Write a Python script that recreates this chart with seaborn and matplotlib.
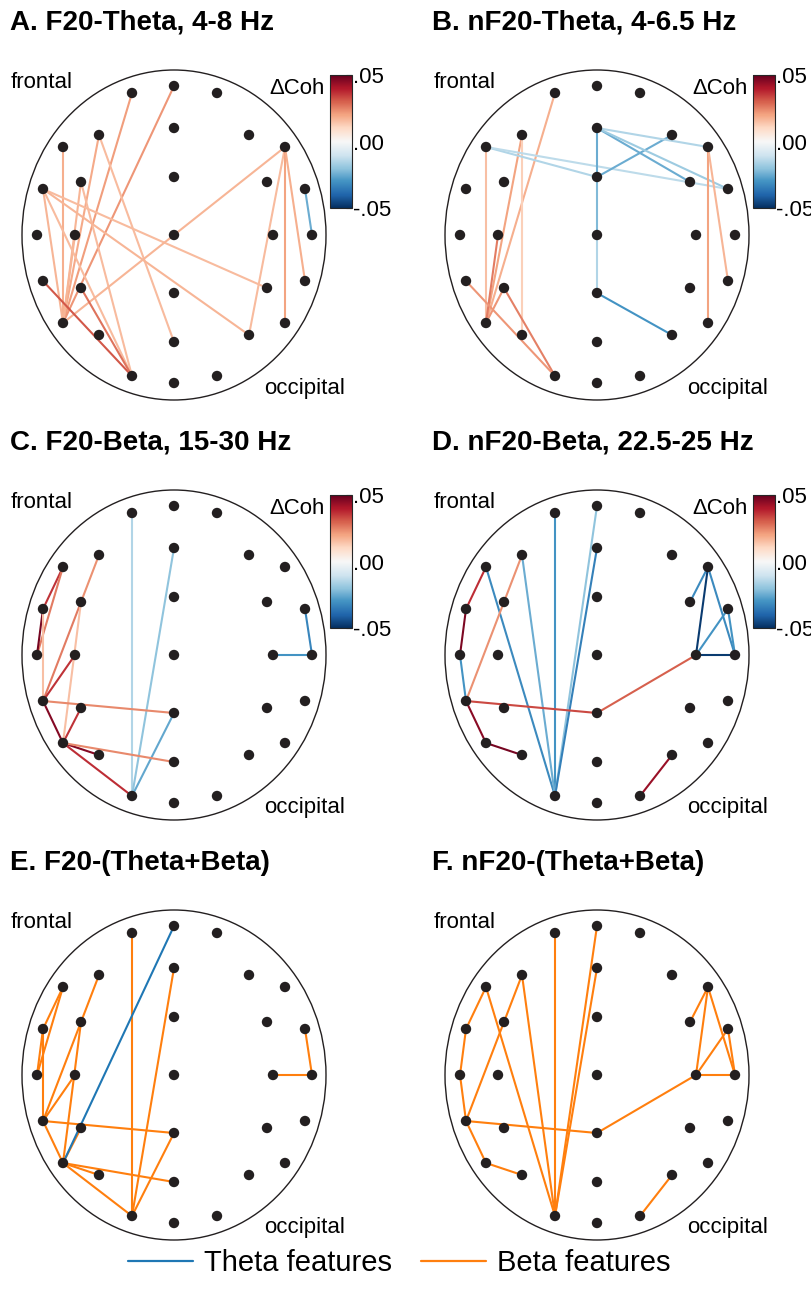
import numpy as np
import matplotlib
matplotlib.use("Agg")
import matplotlib.pyplot as plt
import seaborn as sns
from matplotlib.patches import Ellipse
from matplotlib.lines import Line2D
from matplotlib import font_manager
from matplotlib.cm import ScalarMappable
from matplotlib.colors import Normalize

# electrode layout (offsets from head centre, y up)
elec_names = ["a_l", "a_c", "a_r",
              "b_ll", "b_l", "b_c", "b_r", "b_rr",
              "c_ll", "c_l", "c_c", "c_r", "c_rr",
              "d_ll", "d_l", "d_c", "d_r", "d_rr",
              "e_ll", "e_l", "e_c", "e_r", "e_rr",
              "f_ll", "f_l", "f_c", "f_r", "f_rr",
              "g_l", "g_c", "g_r"]
elec_x = [-42, 0, 43,
          -111, -75, 0, 75, 111,
          -131, -93, 0, 93, 131,
          -137, -99, 0, 99, 138,
          -131, -93, 0, 93, 131,
          -111, -75, 0, 75, 111,
          -42, 0, 43]
elec_y = [142, 149, 142,
          88, 100, 107, 100, 88,
          46, 53, 58, 53, 46,
          0, 0, 0, 0, 0,
          -46, -53, -58, -53, -46,
          -88, -100, -107, -100, -88,
          -141, -148, -141]

# significant coherence differences (node, node, delta coherence)
edges_A = [("a_l", "f_ll", 0.021), ("a_c", "f_ll", 0.022), ("b_ll", "f_ll", 0.018),
           ("b_l", "f_ll", 0.019), ("b_l", "f_c", 0.016), ("c_l", "f_ll", 0.017),
           ("c_l", "g_l", 0.016), ("d_l", "f_ll", 0.017), ("c_ll", "f_ll", 0.017),
           ("c_ll", "e_r", 0.016), ("c_ll", "f_r", 0.017), ("c_ll", "g_l", 0.016),
           ("b_rr", "f_ll", 0.017), ("e_ll", "g_l", 0.031), ("e_l", "g_l", 0.027),
           ("b_rr", "f_r", 0.016), ("b_rr", "f_rr", 0.020), ("b_rr", "e_rr", 0.018),
           ("c_rr", "d_rr", -0.025)]
edges_B = [("a_l", "f_ll", 0.018), ("b_l", "f_ll", 0.020), ("b_l", "f_l", 0.012),
           ("b_ll", "f_ll", 0.015), ("b_ll", "c_c", -0.015), ("b_ll", "c_rr", -0.013),
           ("d_l", "f_ll", 0.026), ("e_l", "f_ll", 0.022), ("e_l", "g_l", 0.025),
           ("e_ll", "g_l", 0.022), ("b_c", "c_c", -0.025), ("c_c", "d_c", -0.022),
           ("d_c", "e_c", -0.015), ("e_c", "f_r", -0.030), ("c_c", "b_r", -0.025),
           ("b_c", "b_rr", -0.015), ("b_c", "c_r", -0.025), ("b_c", "c_rr", -0.018),
           ("b_rr", "f_rr", 0.020), ("b_rr", "e_rr", 0.017)]
edges_C = [("a_l", "g_l", -0.015), ("b_c", "g_l", -0.020), ("e_c", "g_l", -0.026),
           ("b_ll", "c_ll", 0.036), ("b_ll", "d_ll", 0.026), ("c_ll", "d_ll", 0.048),
           ("c_ll", "e_ll", 0.015), ("b_l", "c_l", 0.023), ("c_l", "e_ll", 0.026),
           ("c_l", "f_ll", 0.015), ("d_l", "e_ll", 0.036), ("e_ll", "f_ll", 0.046),
           ("e_l", "f_ll", 0.036), ("f_ll", "f_l", 0.046), ("f_ll", "g_l", 0.037),
           ("e_ll", "e_c", 0.024), ("f_ll", "f_c", 0.024),
           ("c_rr", "d_rr", -0.033), ("d_r", "d_rr", -0.030)]
edges_D = [("a_l", "g_l", -0.030), ("a_c", "g_l", -0.020), ("b_c", "g_l", -0.034),
           ("b_ll", "g_l", -0.032), ("b_l", "g_l", -0.025), ("b_ll", "c_ll", 0.037),
           ("c_ll", "d_ll", 0.047), ("d_ll", "e_ll", -0.030), ("b_l", "e_ll", 0.023),
           ("e_ll", "e_c", 0.033), ("e_ll", "f_ll", 0.045), ("f_ll", "f_l", 0.048),
           ("e_c", "d_r", 0.030), ("g_r", "f_r", 0.043),
           ("b_rr", "c_r", -0.032), ("b_rr", "d_r", -0.048), ("b_rr", "d_rr", -0.032),
           ("c_rr", "d_r", -0.030), ("c_rr", "d_rr", -0.030), ("d_r", "d_rr", -0.048)]

# selected classifier features
theta_E = [("a_c", "f_ll")]
beta_E = [(a, b) for a, b, _ in edges_C]
theta_F = []
beta_F = [(a, b) for a, b, _ in edges_D]

titles = ["A. F20-Theta, 4-8 Hz", "B. nF20-Theta, 4-6.5 Hz",
          "C. F20-Beta, 15-30 Hz", "D. nF20-Beta, 22.5-25 Hz",
          "E. F20-(Theta+Beta)", "F. nF20-(Theta+Beta)"]
cbar_ticks = [-0.05, 0.0, 0.05]
cbar_labels = ["-.05", ".00", ".05"]

sns.set_style("white")
plt.rcParams["font.family"] = ["Liberation Sans", "DejaVu Sans"]
plt.rcParams["text.color"] = "black"
plt.rcParams["ytick.labelcolor"] = "black"
installed = {f.name for f in font_manager.fontManager.ttflist}
if "Liberation Sans Narrow" in installed:
    title_font = ["Liberation Sans Narrow", "Liberation Sans"]
    title_size = 23
else:
    title_font = ["Liberation Sans", "DejaVu Sans"]
    title_size = 20

W, H = 812, 1303
fig = plt.figure(figsize=(W / 100, H / 100), dpi=100)
cmap = plt.get_cmap("RdBu_r")
norm = Normalize(-0.05, 0.05)
pos = dict(zip(elec_names, zip(elec_x, elec_y)))
RX, RY = 152, 165
THETA_C, BETA_C = "#1f77b4", "#ff7f0e"


def head_axes(col, row):
    cx = 174 if col == 0 else 597
    cy = 235 + 420 * row
    ax = fig.add_axes([(cx - RX - 3) / W, 1 - (cy + RY + 3) / H,
                       (2 * RX + 6) / W, (2 * RY + 6) / H])
    ax.set_xlim(-RX - 3, RX + 3)
    ax.set_ylim(-RY - 3, RY + 3)
    ax.axis("off")
    ax.add_patch(Ellipse((0, 0), 2 * RX, 2 * RY, fill=False, lw=1.0, ec="#231f20"))
    return ax, cx, cy


def draw_edges(ax, edges, colors):
    for (a, b), c in zip(edges, colors):
        ax.plot([pos[a][0], pos[b][0]], [pos[a][1], pos[b][1]], color=c, lw=1.5,
                solid_capstyle="round", zorder=2)


def draw_nodes(ax):
    sns.scatterplot(x=elec_x, y=elec_y, ax=ax, color="#231f20", s=56,
                    edgecolor="none", zorder=3, legend=False)


def labels(cx, cy, with_coh):
    fig.text((cx - 163) / W, 1 - (cy - 153) / H, "frontal", fontsize=16,
             ha="left", va="center")
    fig.text((cx + 171) / W, 1 - (cy + 153) / H, "occipital", fontsize=16,
             ha="right", va="center")
    if with_coh:
        fig.text((cx + 151) / W, 1 - (cy - 146) / H, "\u0394Coh", fontsize=16,
                 ha="right", va="center")


def colorbar(cx, cy):
    x0 = cx + 156
    cax = fig.add_axes([x0 / W, 1 - (cy - 27) / H, 22 / W, 133 / H])
    cb = fig.colorbar(ScalarMappable(norm=norm, cmap=cmap), cax=cax)
    cb.set_ticks(cbar_ticks)
    cb.set_ticklabels(cbar_labels)
    cb.ax.set_yticks([-0.025, 0.025], minor=True)
    cb.ax.tick_params(which="both", direction="in", length=4, width=0.8,
                      pad=1, labelsize=16, color="#444444")
    cb.outline.set_linewidth(0.8)


panels = [(edges_A, 0, 0), (edges_B, 1, 0), (edges_C, 0, 1), (edges_D, 1, 1)]
for edges, col, row in panels:
    ax, cx, cy = head_axes(col, row)
    draw_edges(ax, [(a, b) for a, b, _ in edges], [cmap(norm(v)) for _, _, v in edges])
    draw_nodes(ax)
    labels(cx, cy, True)
    colorbar(cx, cy)

for theta, beta, col in [(theta_E, beta_E, 0), (theta_F, beta_F, 1)]:
    ax, cx, cy = head_axes(col, 2)
    draw_edges(ax, beta, [BETA_C] * len(beta))
    draw_edges(ax, theta, [THETA_C] * len(theta))
    draw_nodes(ax)
    labels(cx, cy, False)

for i, t in enumerate(titles):
    x = 10 if i % 2 == 0 else 432
    y = 23 + 420 * (i // 2)
    fig.text(x / W, 1 - y / H, t, fontsize=title_size, fontweight="bold",
             family=title_font, ha="left", va="center")

handles = [Line2D([], [], color=THETA_C, lw=1.6), Line2D([], [], color=BETA_C, lw=1.6)]
fig.legend(handles, ["Theta features", "Beta features"], loc="center",
           bbox_to_anchor=(0.492, 1 - 1263 / H), ncol=2, frameon=False,
           fontsize=21, handlelength=2.2, handletextpad=0.4, columnspacing=1.0)

fig.savefig("out.png", dpi=100)
